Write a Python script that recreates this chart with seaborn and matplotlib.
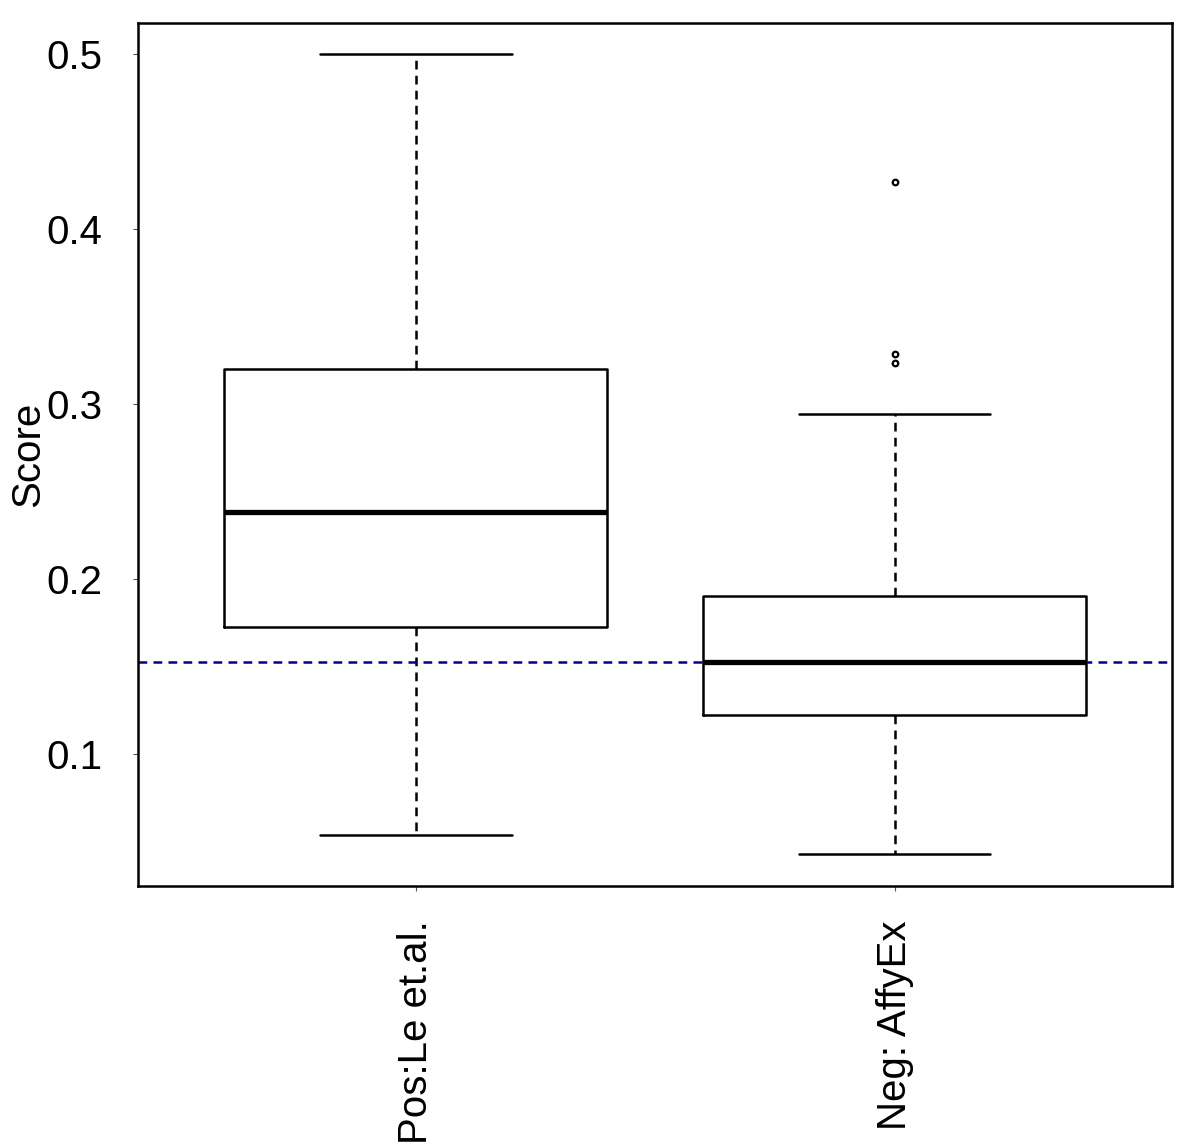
import pandas as pd
import matplotlib
matplotlib.use("Agg")
import matplotlib.pyplot as plt
import seaborn as sns

groups = ["Pos:Le et.al.", "Neg: AffyEx"]
pos_scores = [0.0536, 0.1726, 0.2384, 0.3200, 0.5000]
neg_scores = [0.0427, 0.0700, 0.0900, 0.1100, 0.1222, 0.1300, 0.1400, 0.1450,
              0.1526, 0.1600, 0.1700, 0.1800, 0.1903, 0.2944, 0.3234, 0.3286,
              0.4269]
threshold = 0.1526
y_ticks = [0.1, 0.2, 0.3, 0.4, 0.5]

df = pd.DataFrame({
    "group": [groups[0]] * len(pos_scores) + [groups[1]] * len(neg_scores),
    "Score": pos_scores + neg_scores,
})

sns.set_theme(style="white")
plt.rcParams["font.family"] = ["Liberation Sans", "DejaVu Sans"]
plt.rcParams["text.color"] = "black"
plt.rcParams["axes.labelcolor"] = "black"

fig = plt.figure(figsize=(12, 11.44), dpi=100)
ax = fig.add_axes([0.115, 0.2255, 0.862, 0.7545])

sns.boxplot(data=df, x="group", y="Score", order=groups, ax=ax,
            fill=False, color="black", width=0.8, whis=1.6, linewidth=1.8,
            capwidths=0.4,
            whiskerprops={"linestyle": (0, (3.5, 2.5))},
            medianprops={"linewidth": 3.8},
            flierprops={"marker": "o", "markersize": 4,
                        "markerfacecolor": "none", "markeredgecolor": "black",
                        "markeredgewidth": 1.6})

ax.axhline(threshold, color="#00008B", linestyle=(0, (3.5, 2.5)), linewidth=1.8)

ax.set_xlim(-0.58, 1.58)
ax.set_ylim(0.0245, 0.518)
ax.set_yticks(y_ticks)
ax.set_yticklabels([f"{t:.1f}" for t in y_ticks])
ax.set_xlabel("")
ax.set_ylabel("Score", fontsize=29)
ax.yaxis.set_label_coords(-0.0875, 0.5)

ax.tick_params(axis="both", labelsize=29, length=3.6, width=0.8,
               color="#555555", labelcolor="black", direction="out",
               bottom=True, left=True)
ax.tick_params(axis="y", pad=22)
ax.tick_params(axis="x", pad=21)
plt.setp(ax.get_xticklabels(), rotation=90, va="top", ha="center")

for s in ax.spines.values():
    s.set_visible(True)
    s.set_color("black")
    s.set_linewidth(1.8)

fig.savefig("out.png", dpi=100)
